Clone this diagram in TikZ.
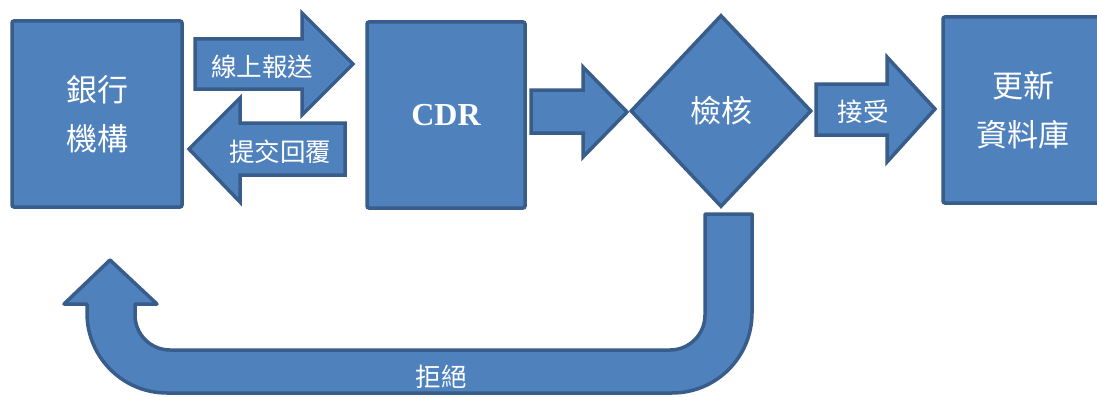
\documentclass[tikz,border=0pt]{standalone}
\usepackage{fontspec}
\setmainfont{Liberation Serif}
\newfontfamily\cjk{Noto Sans CJK TC}
\usetikzlibrary{shapes.geometric}
\definecolor{bfill}{HTML}{4F81BD}
\definecolor{bline}{HTML}{385D8A}
\tikzset{
  blk/.style={fill=bfill, draw=bline, line width=3.5pt},
  boxnode/.style={blk, rounded corners=2pt, inner sep=0pt, align=center, text=white},
  bigtxt/.style={text=white, align=center, font=\cjk\fontsize{31}{49}\selectfont},
  smalltxt/.style={text=white, font=\cjk\fontsize{25.5}{28}\selectfont},
}
\begin{document}
\begin{tikzpicture}[x=1pt, y=-1pt]
\clip (0,0) rectangle (1097,396);
\fill[white] (0,0) rectangle (1097,396);

% boxes
\node[boxnode, bigtxt, minimum width=170pt, minimum height=186pt] (bank) at (97,114) {銀行\\機構};
\node[boxnode, minimum width=158pt, minimum height=186pt, font=\fontsize{32}{36}\selectfont\bfseries] (cdr) at (446,115) {CDR};
\node[boxnode, bigtxt, minimum width=160pt, minimum height=186pt] (db) at (1023,110) {更新\\資料庫};
\node[diamond, blk, inner sep=0pt, minimum width=181pt, minimum height=192pt, bigtxt] (check) at (721,111) {檢核};

% block arrows
\draw[blk] (195,39) -- (302,39) -- (302,13) -- (353,64) -- (302,115) -- (302,89) -- (195,89) -- cycle;
\node[smalltxt] (send) at (262,67) {線上報送};
\draw[blk] (189,149) -- (240,98) -- (240,123) -- (345,123) -- (345,175) -- (240,175) -- (240,202) -- cycle;
\node[smalltxt] (reply) at (280,152) {提交回覆};
\draw[blk] (531,90) -- (583,90) -- (583,67) -- (627,112) -- (583,157) -- (583,133) -- (531,133) -- cycle;
\draw[blk] (816,84) -- (887,84) -- (887,57) -- (935,109) -- (887,162) -- (887,135) -- (816,135) -- cycle;
\node[smalltxt] (accept) at (863,112) {接受};

% U-turn arrow
\draw[blk, line join=round] (705,214) -- (705,315) arc[start angle=0, end angle=90, radius=35]
  -- (170,350) arc[start angle=90, end angle=180, radius=35]
  -- (135,304) -- (157,304) -- (110,260) -- (64,304) -- (87,304)
  -- (87,313) arc[start angle=180, end angle=90, radius=80]
  -- (672,393) arc[start angle=90, end angle=0, radius=80]
  -- (752,214) -- cycle;
\node[smalltxt] (reject) at (441,377) {拒絕};
\end{tikzpicture}
\end{document}
